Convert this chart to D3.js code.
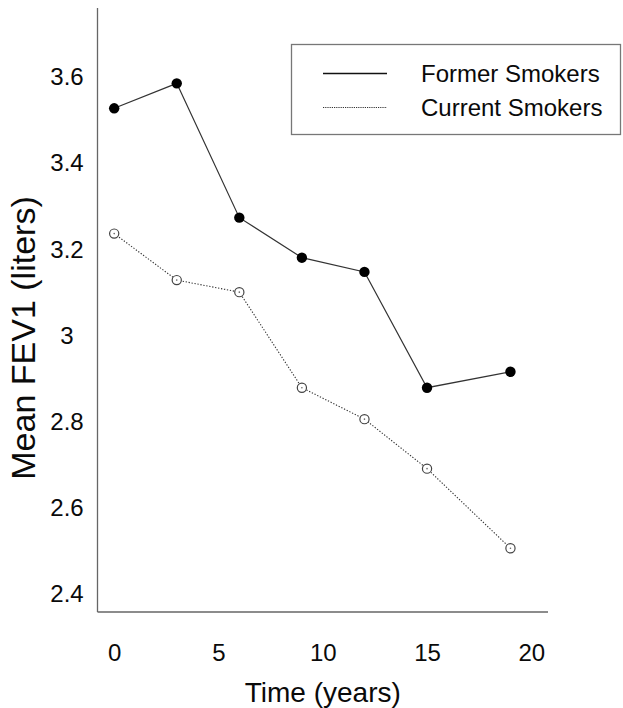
<!DOCTYPE html>
<html>
<head>
<meta charset="utf-8">
<script src="https://cdn.jsdelivr.net/npm/d3@7"></script>
<style>
  html, body { margin: 0; padding: 0; background: #fff; }
  svg { display: block; font-family: "Liberation Sans", Arial, Helvetica, sans-serif; }
</style>
</head>
<body>
<svg id="chart" width="623" height="708"></svg>
<script>
// Follow-up times (years)
const years = [0, 3, 6, 9, 12, 15, 19];
// Mean FEV1 (liters) per group
const formerSmokers = [3.523, 3.581, 3.269, 3.176, 3.143, 2.874, 2.911];
const currentSmokers = [3.232, 3.124, 3.096, 2.874, 2.801, 2.686, 2.501];
// Axis ticks
const xTicks = [0, 5, 10, 15, 20];
const yTicks = [2.4, 2.6, 2.8, 3.0, 3.2, 3.4, 3.6];
const seriesNames = ["Former Smokers", "Current Smokers"];

const svg = d3.select("#chart");
const plot = { left: 97.5, right: 548, top: 8, bottom: 612 };

const x = d3.scaleLinear().domain([-0.8, 20.8]).range([plot.left, plot.right]);
const y = d3.scaleLinear().domain([2.353, 3.756]).range([plot.bottom, plot.top]);

const axisColor = "#666";
const textColor = "#0a0a0a";

// Axis lines (left and bottom only)
svg.append("line")
  .attr("x1", plot.left).attr("x2", plot.left)
  .attr("y1", plot.top).attr("y2", plot.bottom)
  .attr("stroke", axisColor).attr("stroke-width", 1.3);
svg.append("line")
  .attr("x1", plot.left).attr("x2", plot.right)
  .attr("y1", plot.bottom).attr("y2", plot.bottom)
  .attr("stroke", axisColor).attr("stroke-width", 1.3);

// Tick labels without tick marks
const xAxis = d3.axisBottom(x).tickValues(xTicks).tickSize(0).tickPadding(0)
  .tickFormat(d3.format("d"));
const gx = svg.append("g").attr("transform", `translate(0,${plot.bottom})`).call(xAxis);
gx.select(".domain").remove();
gx.selectAll("text")
  .attr("y", 49).attr("dy", null)
  .attr("font-size", 24).attr("fill", textColor)
  .attr("font-family", "Liberation Sans, Arial, sans-serif");

const yAxis = d3.axisLeft(y).tickValues(yTicks).tickSize(0).tickPadding(0)
  .tickFormat(d => d3.format("")(+d.toFixed(1)));
const gy = svg.append("g").call(yAxis);
gy.select(".domain").remove();
gy.selectAll("text")
  .attr("x", 67).attr("dy", "0.36em")
  .attr("text-anchor", "middle")
  .attr("font-size", 24).attr("fill", textColor)
  .attr("font-family", "Liberation Sans, Arial, sans-serif");
gy.selectAll(".tick").attr("transform", d => `translate(0,${y(d) + 1.5})`);

// Axis titles
svg.append("text")
  .attr("x", (plot.left + plot.right) / 2)
  .attr("y", 702)
  .attr("text-anchor", "middle")
  .attr("font-size", 28).attr("fill", textColor)
  .text("Time (years)");
svg.append("text")
  .attr("transform", `translate(35,338) rotate(-90)`)
  .attr("text-anchor", "middle")
  .attr("font-size", 34).attr("fill", textColor)
  .text("Mean FEV1 (liters)");

const line = d3.line().x(d => x(d[0])).y(d => y(d[1]));
const formerPts = years.map((t, i) => [t, formerSmokers[i]]);
const currentPts = years.map((t, i) => [t, currentSmokers[i]]);

// Current smokers: dotted line with open circles
svg.append("path")
  .datum(currentPts)
  .attr("d", line)
  .attr("fill", "none")
  .attr("stroke", "#333")
  .attr("stroke-width", 1.1)
  .attr("stroke-dasharray", "1.3,1.7");
const openPts = svg.append("g").selectAll("g").data(currentPts).join("g")
  .attr("transform", d => `translate(${x(d[0])},${y(d[1])})`);
openPts.append("circle").attr("r", 4.6)
  .attr("fill", "#fff").attr("stroke", "#444").attr("stroke-width", 1.2);
openPts.append("circle").attr("r", 0.8).attr("fill", "#666");

// Former smokers: solid line with filled circles
svg.append("path")
  .datum(formerPts)
  .attr("d", line)
  .attr("fill", "none")
  .attr("stroke", "#333")
  .attr("stroke-width", 1.2);
svg.append("g").selectAll("circle").data(formerPts).join("circle")
  .attr("cx", d => x(d[0])).attr("cy", d => y(d[1]))
  .attr("r", 5.2).attr("fill", "#000");

// Legend
const legend = svg.append("g");
legend.append("rect")
  .attr("x", 291.5).attr("y", 44.5).attr("width", 329).attr("height", 90)
  .attr("fill", "#fff").attr("stroke", "#777").attr("stroke-width", 1.3);
const legendRows = [
  { name: seriesNames[0], y: 73.5, dash: null, stroke: "#111", w: 1.4 },
  { name: seriesNames[1], y: 107.5, dash: "1.2,1", stroke: "#333", w: 1.1 }
];
legendRows.forEach(r => {
  legend.append("line")
    .attr("x1", 323).attr("x2", 387).attr("y1", r.y).attr("y2", r.y)
    .attr("stroke", r.stroke).attr("stroke-width", r.w)
    .attr("stroke-dasharray", r.dash);
  legend.append("text")
    .attr("x", 421).attr("y", r.y + 8.6)
    .attr("font-size", 24).attr("fill", textColor)
    .text(r.name);
});
</script>
</body>
</html>
